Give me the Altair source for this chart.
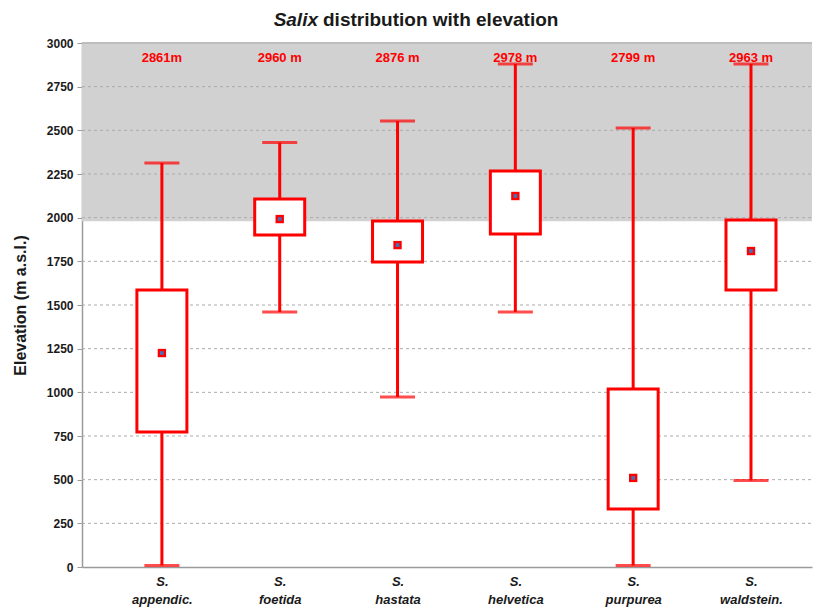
import altair as alt
import pandas as pd

categories = ["S. appendic.", "S. foetida", "S. hastata", "S. helvetica", "S. purpurea", "S. waldstein."]
whisker_low = [8, 1460, 973, 1460, 8, 495]
box_low = [773, 1901, 1746, 1906, 332, 1586]
median = [1225, 1992, 1843, 2124, 510, 1809]
box_high = [1586, 2107, 1981, 2267, 1019, 1987]
whisker_high = [2313, 2430, 2553, 2880, 2513, 2880]
max_labels = ["2861m", "2960 m", "2876 m", "2978 m", "2799 m", "2963 m"]
band_low = [1980]
band_high = [3000]
y_ticks = [0, 250, 500, 750, 1000, 1250, 1500, 1750, 2000, 2250, 2500, 2750, 3000]

FONT = "Liberation Sans"
RED = "#ff0000"

df = pd.DataFrame({
    "cat": categories, "wl": whisker_low, "bl": box_low, "med": median,
    "bh": box_high, "wh": whisker_high, "lab": max_labels,
})
band_df = pd.DataFrame({"lo": band_low, "hi": band_high})
grid_df = pd.DataFrame({"v": [t for t in y_ticks if 0 < t < 3000]})
top_df = pd.DataFrame({"v": [y_ticks[-1]]})

yscale = alt.Scale(domain=[0, 3000], nice=False)
xscale = alt.Scale(type="point", domain=categories, padding=0.598, align=0.567)

xenc = alt.X("cat:N", scale=xscale, sort=categories,
             axis=alt.Axis(title=None, ticks=False, labelAngle=0,
                           labelExpr="split(datum.label, ' ')",
                           labelFont=FONT, labelFontSize=13, labelFontWeight="bold",
                           labelFontStyle="italic", labelColor="#1a1a1a",
                           labelLineHeight=18, labelPadding=8,
                           domainColor="#9a9a9a", domainWidth=1.5))

band = alt.Chart(band_df).mark_rect(color="#d1d1d1").encode(
    x=alt.value(0), x2=alt.value(730),
    y=alt.Y("lo:Q", scale=yscale, axis=alt.Axis(
        title="Elevation (m a.s.l.)", values=y_ticks, grid=False, format="d",
        titleFont=FONT, titleFontSize=16, titleFontWeight="bold", titleColor="#1a1a1a",
        titlePadding=18,
        labelFont=FONT, labelFontSize=12, labelFontWeight="bold", labelColor="#1a1a1a",
        labelPadding=4, tickColor="#9a9a9a", tickSize=5,
        domainColor="#9a9a9a", domainWidth=1.5)),
    y2="hi:Q",
)

grid = alt.Chart(grid_df).mark_rule(color="#ababab", strokeDash=[3, 3], strokeWidth=1).encode(
    x=alt.value(0), x2=alt.value(730), y=alt.Y("v:Q", scale=yscale),
)
top_line = alt.Chart(top_df).mark_rule(color="#bdbdbd", strokeWidth=2).encode(
    x=alt.value(0), x2=alt.value(730), y=alt.Y("v:Q", scale=yscale),
)

base = alt.Chart(df)
whisk = base.mark_rule(color=RED, strokeWidth=3).encode(
    x=xenc, y=alt.Y("wl:Q", scale=yscale), y2="wh:Q")
cap_hi = base.mark_tick(color=RED, size=35, thickness=3, orient="horizontal").encode(
    x=xenc, y=alt.Y("wh:Q", scale=yscale))
cap_lo = base.mark_tick(color=RED, size=35, thickness=3, orient="horizontal").encode(
    x=xenc, y=alt.Y("wl:Q", scale=yscale))
box = base.mark_bar(fill="white", stroke=RED, strokeWidth=3, size=50).encode(
    x=xenc, y=alt.Y("bl:Q", scale=yscale), y2="bh:Q")
med_out = base.mark_square(color=RED, opacity=1, size=70).encode(
    x=xenc, y=alt.Y("med:Q", scale=yscale))
med_in = base.mark_square(color="#4a6fb5", opacity=1, size=14).encode(
    x=xenc, y=alt.Y("med:Q", scale=yscale))
labels = base.mark_text(color=RED, font=FONT, fontSize=13, fontWeight="bold",
                        baseline="middle").encode(
    x=xenc, y=alt.value(15), text="lab:N")

title1 = alt.Chart(top_df).mark_text(text="Salix", font=FONT, fontSize=19, fontWeight="bold",
                                     fontStyle="italic", align="right", baseline="alphabetic",
                                     color="#1a1a1a").encode(
    x=alt.value(236), y=alt.value(-17))
title2 = alt.Chart(top_df).mark_text(text="distribution with elevation", font=FONT, fontSize=19,
                                     fontWeight="bold", align="left", baseline="alphabetic",
                                     color="#1a1a1a").encode(
    x=alt.value(241), y=alt.value(-17))

chart = alt.layer(
    band, grid, top_line, whisk, cap_hi, cap_lo, box, med_out, med_in, labels, title1, title2
).resolve_scale(x="shared", y="shared").properties(
    width=730, height=524,
    autosize=alt.AutoSizeParams(type="none"),
    padding={"left": 74, "top": 35, "right": 10, "bottom": 40},
).configure_view(stroke=None)

chart.save("out.html", embed_options={"renderer": "svg", "actions": False})
